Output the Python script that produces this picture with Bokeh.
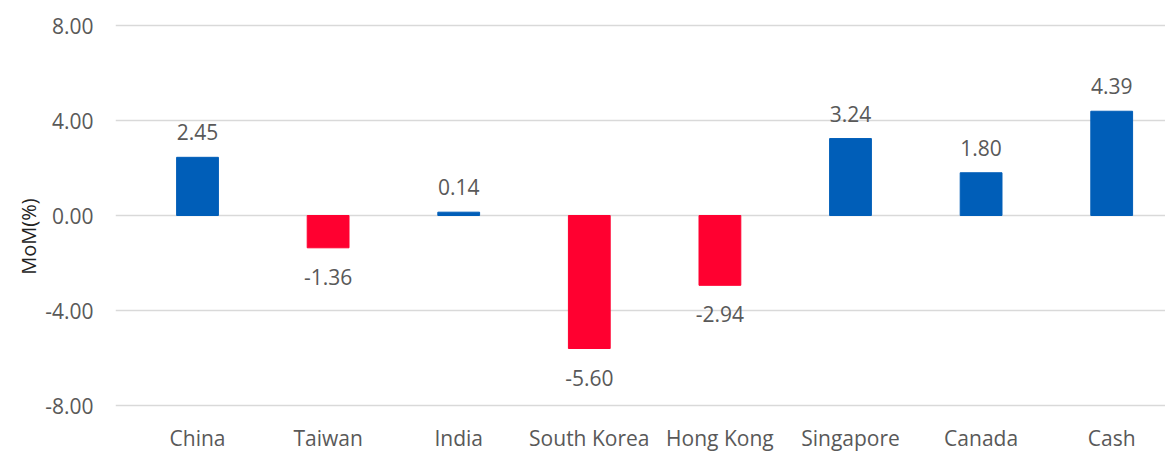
from bokeh.plotting import figure
from bokeh.models import ColumnDataSource, Range1d, FixedTicker, LabelSet, CustomJSTickFormatter
from bokeh.core.properties import value
from bokeh.embed import file_html
from bokeh.resources import INLINE

categories = ["China", "Taiwan", "India", "South Korea", "Hong Kong", "Singapore", "Canada", "Cash"]
values = [2.45, -1.36, 0.14, -5.60, -2.94, 3.24, 1.80, 4.39]
y_ticks = [-8, -4, 0, 4, 8]

BLUE = "#005EB8"
RED = "#FF0030"
TEXT = "#595959"
FONT = "Open Sans"

xs = list(range(len(categories)))
colors = [BLUE if v >= 0 else RED for v in values]
labels = [f"{v:.2f}" for v in values]
pos_idx = [i for i, v in enumerate(values) if v >= 0]
neg_idx = [i for i, v in enumerate(values) if v < 0]

src = ColumnDataSource(dict(x=xs, top=values, color=colors))
pos_src = ColumnDataSource(dict(x=[xs[i] for i in pos_idx], y=[values[i] for i in pos_idx],
                                label=[labels[i] for i in pos_idx]))
neg_src = ColumnDataSource(dict(x=[xs[i] for i in neg_idx], y=[values[i] for i in neg_idx],
                                label=[labels[i] for i in neg_idx]))
cat_src = ColumnDataSource(dict(x=xs, y=[min(y_ticks)] * len(xs), label=categories))

# frame extends below the lowest gridline so category labels sit inside it
PX_PER_UNIT = 23.75
p = figure(width=1165, height=452, output_backend="svg", toolbar_location=None,
           x_range=Range1d(-0.628, 7.412),
           y_range=Range1d(min(y_ticks) - 47 / PX_PER_UNIT, max(y_ticks) + 5 / PX_PER_UNIT),
           min_border_left=115, min_border_right=0, min_border_top=20, min_border_bottom=0)
p.outline_line_color = None
p.background_fill_color = "white"
p.border_fill_color = "white"

p.vbar(x="x", top="top", bottom=0, width=0.32, color="color", source=src)

p.add_layout(LabelSet(x="x", y="y", text="label", source=pos_src, text_align="center",
                      text_baseline="bottom", y_offset=17, text_color=TEXT,
                      text_font=value(FONT), text_font_size="21px"))
p.add_layout(LabelSet(x="x", y="y", text="label", source=neg_src, text_align="center",
                      text_baseline="top", y_offset=-21, text_color=TEXT,
                      text_font=value(FONT), text_font_size="21px"))
p.add_layout(LabelSet(x="x", y="y", text="label", source=cat_src, text_align="center",
                      text_baseline="middle", y_offset=-32, text_color=TEXT,
                      text_font=value(FONT), text_font_size="21px"))

p.xaxis.visible = False
p.xgrid.grid_line_color = None

p.yaxis.ticker = FixedTicker(ticks=y_ticks)
p.yaxis.formatter = CustomJSTickFormatter(code="return tick.toFixed(2);")
p.yaxis.axis_line_color = None
p.yaxis.major_tick_line_color = None
p.yaxis.minor_tick_line_color = None
p.yaxis.major_label_standoff = 16
p.yaxis.major_label_text_font = FONT
p.yaxis.major_label_text_font_size = "21px"
p.yaxis.major_label_text_color = TEXT
p.yaxis.axis_label = "MoM(%)"
p.yaxis.axis_label_text_font = FONT
p.yaxis.axis_label_text_font_size = "20px"
p.yaxis.axis_label_text_font_style = "normal"
p.yaxis.axis_label_text_color = "#222222"
p.yaxis.axis_label_standoff = 0
p.ygrid.ticker = FixedTicker(ticks=y_ticks)
p.ygrid.grid_line_color = "#D9D9D9"
p.ygrid.grid_line_width = 1.5

open("out.html", "w").write(file_html(p, INLINE))
